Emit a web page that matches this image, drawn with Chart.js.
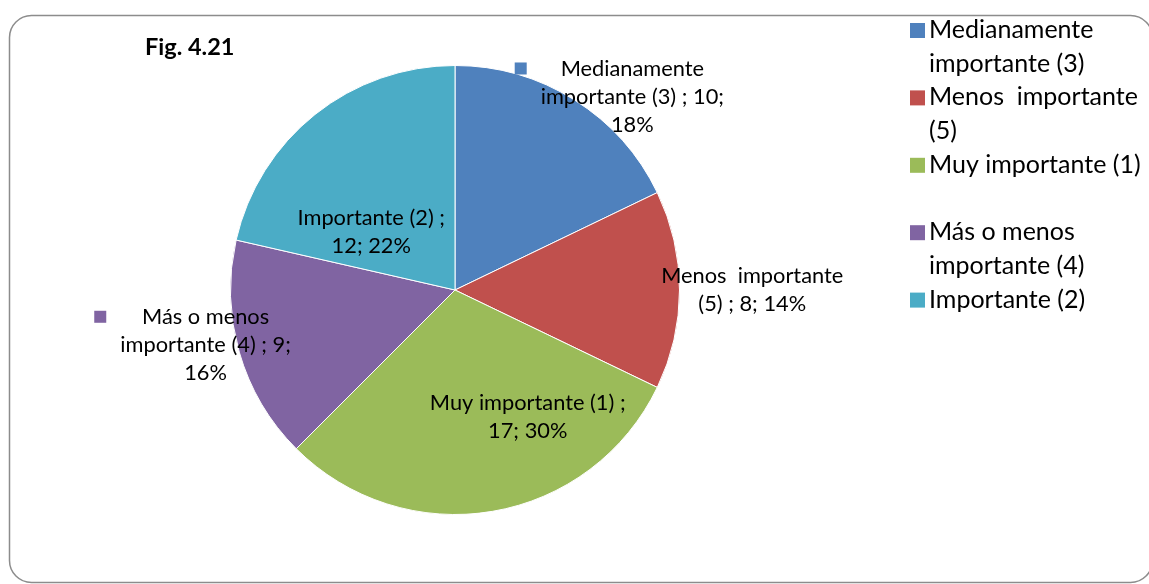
<!DOCTYPE html>
<html>
<head>
<meta charset="utf-8">
<script src="https://cdn.jsdelivr.net/npm/chart.js@4"></script>
<style>
  html, body { margin: 0; padding: 0; background: #fff; }
  canvas { display: block; }
</style>
</head>
<body>
<canvas id="pieChart" width="1149" height="584"></canvas>
<script>
// data
var categories = ['Medianamente importante (3)', 'Menos  importante (5)', 'Muy importante (1)', 'Más o menos importante (4)', 'Importante (2)'];
var counts = [10, 8, 17, 9, 12];
var percents = ['18%', '14%', '30%', '16%', '22%'];
var colors = ['#4F81BD', '#C0504D', '#9BBB59', '#8064A2', '#4BACC6'];

// wrapped text as it appears in the picture
var labelLines = [
    ['Medianamente', 'importante (3) ; 10;', '18%'],
    ['Menos  importante', '(5) ; 8; 14%'],
    ['Muy importante (1) ;', '17; 30%'],
    ['Más o menos', 'importante (4) ; 9;', '16%'],
    ['Importante (2) ;', '12; 22%']
];
var legendLines = [
    ['Medianamente', 'importante (3)'],
    ['Menos  importante', '(5)'],
    ['Muy importante (1)', ''],
    ['Más o menos', 'importante (4)'],
    ['Importante (2)']
];

var FONT = 'Lato, "Open Sans", sans-serif';

// label centre offsets in units of the pie radius, and whether a key square is shown
var labelSpots = [
    { dx: 0.79, dy: -0.862, key: true },
    { dx: 1.324, dy: 0.0, key: false },
    { dx: 0.324, dy: 0.564, key: false },
    { dx: -1.111, dy: 0.244, key: true },
    { dx: -0.373, dy: -0.258, key: false }
];

var framePlugin = {
    id: 'frame',
    beforeDraw: function (chart) {
        var ctx = chart.ctx;
        ctx.save();
        ctx.fillStyle = '#fff';
        ctx.fillRect(0, 0, chart.width, chart.height);
        ctx.strokeStyle = '#8c8c8c';
        ctx.lineWidth = 1.5;
        ctx.beginPath();
        ctx.roundRect(9.5, 15.5, 1143, 567, 22);
        ctx.stroke();

        ctx.fillStyle = '#000';
        ctx.font = 'bold 23.5px ' + FONT;
        ctx.textBaseline = 'middle';
        ctx.fillText('Fig. 4.21', 145, 47);
        ctx.restore();
    }
};

var labelsPlugin = {
    id: 'sliceLabels',
    afterDatasetsDraw: function (chart) {
        var ctx = chart.ctx;
        var arcs = chart.getDatasetMeta(0).data;
        var lineH = 28;
        ctx.save();
        ctx.font = '21.8px ' + FONT;
        ctx.textAlign = 'center';
        ctx.textBaseline = 'middle';
        arcs.forEach(function (arc, i) {
            var r = arc.outerRadius;
            var cx = arc.x + labelSpots[i].dx * r;
            var cy = arc.y + labelSpots[i].dy * r;
            var lines = labelLines[i];
            var top = cy - (lines.length - 1) * lineH / 2;
            var widest = 0;
            lines.forEach(function (t, k) {
                widest = Math.max(widest, ctx.measureText(t).width);
                ctx.fillStyle = '#000';
                ctx.fillText(t, cx, top + k * lineH);
            });
            if (labelSpots[i].key) {
                ctx.fillStyle = colors[i];
                ctx.fillRect(cx - widest / 2 - 26, top - 6, 12, 12);
            }
        });

        // legend on the right
        ctx.textAlign = 'left';
        ctx.font = '25px ' + FONT;
        var y = 30;
        legendLines.forEach(function (lines, i) {
            ctx.fillStyle = colors[i];
            ctx.fillRect(910, y - 7, 15, 15);
            ctx.fillStyle = '#000';
            lines.forEach(function (t) {
                ctx.fillText(t, 929, y);
                y += 33.7;
            });
        });
        ctx.restore();
    }
};

var ctx = document.getElementById('pieChart').getContext('2d');
var pieChart = new Chart(ctx, {
    type: 'pie',
    data: {
        labels: categories,
        datasets: [{
            data: counts,
            backgroundColor: colors,
            borderColor: '#ffffff',
            borderWidth: 1
        }]
    },
    options: {
        responsive: false,
        animation: false,
        layout: {
            padding: { left: 230, right: 469, top: 65, bottom: 69 }
        },
        plugins: {
            legend: { display: false },
            tooltip: { enabled: false }
        }
    },
    plugins: [framePlugin, labelsPlugin]
});
</script>
</body>
</html>
